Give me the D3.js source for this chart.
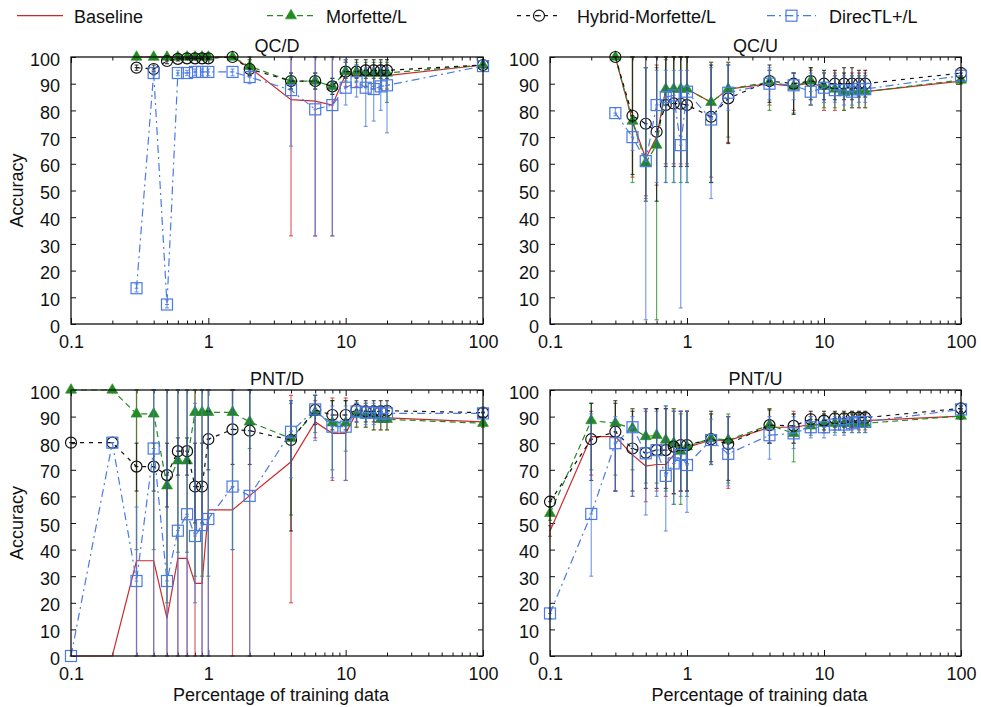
<!DOCTYPE html>
<html>
<head>
<meta charset="utf-8">
<script src="https://cdn.jsdelivr.net/npm/d3@7"></script>
<style>
  body { margin: 0; background: #fff; }
  svg { display: block; }
  text { font-family: "Liberation Sans", Arial, Helvetica, sans-serif; fill: #111; }
</style>
</head>
<body>
<svg id="chart" width="981" height="707"></svg>
<script>
// Percentage of training data used at each measured point
const trainingPct = [0.1, 0.2, 0.3, 0.4, 0.5, 0.6, 0.7, 0.8, 0.9, 1, 1.5, 2, 4, 6, 8, 10, 12, 14, 16, 18, 20, 100];
const seriesNames = ["Baseline", "Morfette/L", "Hybrid-Morfette/L", "DirecTL+/L"];
const panelTitles = ["QC/D", "QC/U", "PNT/D", "PNT/U"];
const xTickValues = [0.1, 1, 10, 100];
const yTickValues = [0, 10, 20, 30, 40, 50, 60, 70, 80, 90, 100];

// QC/D accuracy and [min, max] ranges
const qcdBaseline = [null, null, 100, 100, 100, 100, 100, 100, 100, 100, 100, 96, 84, 83.5, 82, 93.5, 93, 93, 93, 93, 93, 97];
const qcdBaselineErr = [null, null, null, null, null, null, null, null, null, null, null, [93, 99], [33, 100], [33, 100], [33, 100], [89, 98], [89, 97], [89, 97], [88, 97], [88, 97], [88, 97], [96, 98]];
const qcdMorfette = [null, null, 100, 100, 100, 100, 100, 100, 100, 100, 100, 96.5, 91, 91, 89, 94.5, 94.5, 94, 94, 94, 94, 97];
const qcdMorfetteErr = [null, null, null, null, null, null, null, null, null, null, null, [94, 99], [88, 94], [88, 94], [86, 92], [91, 98], [91, 98], [89, 98], [89, 98], [88, 98], [83, 98], [96, 98]];
const qcdHybrid = [null, null, 96, 95.5, 98.5, 99.3, 99.5, 99.5, 99.5, 99.5, 100, 95.5, 91, 91, 89, 94.5, 94.5, 95, 95, 95, 95, 97];
const qcdHybridErr = [null, null, [95, 97], [94.5, 97], [97.5, 100], [98.5, 100], [99, 100], [99, 100], [99, 100], [99, 100], null, [93, 100], [88, 94], [88, 94], [86, 92], [92, 99], [92, 99], [92, 99], [92, 99], [92, 99], [92, 99], [96, 98]];
const qcdDirectl = [null, null, 13.4, 94, 7.3, 94, 94, 94.4, 94.4, 94.4, 94.4, 92.5, 87.6, 80.4, 82, 88.5, 90.6, 88.5, 88, 89, 89.4, 96.6];
const qcdDirectlErr = [null, null, [12, 15], [93, 95], [6, 9], [93, 95], [93, 95], [93, 95.5], [93, 95.5], [93, 95.5], [93, 95.5], [90, 95], [66.6, 100], [33, 100], [33, 100], [82, 99], [85, 97], [74, 96], [76, 96], [80, 96], [71.6, 96], [96, 98]];

// QC/U
const qcuBaseline = [null, null, 100, 76, 62, 70, 88, 88, 88, 88, 83, 88, 90, 89, 90.5, 88.5, 88, 87, 87, 87, 87, 91];
const qcuBaselineErr = [null, null, null, [55, 100], [48, 96], [52, 97], [60, 100], [60, 100], [60, 100], [60, 100], [55, 98], [68, 98], [82, 95], [80, 94], [82, 95], [80, 94], [80, 94], [80, 94], [81, 94], [81, 94], [81, 94], [90, 93]];
const qcuMorfette = [null, null, 100, 76, 60.4, 67, 88, 88, 88, 88, 83, 88, 90.6, 89, 91, 89, 88, 87, 87, 87, 87, 91.4];
const qcuMorfetteErr = [null, null, null, [53, 100], [47, 96], [1.6, 96], [53, 99], [53, 100], [53, 100], [53, 100], [53, 98], [70, 98], [80, 95], [79, 94], [82, 96], [81, 94], [81, 93], [80, 94], [81, 93], [81, 93], [81, 93], [90, 93]];
const qcuHybrid = [null, null, 100, 78, 75, 72, 82, 82.6, 82.5, 82, 77.6, 84.5, 91, 90, 91, 90, 90, 90, 90, 90, 90, 94];
const qcuHybridErr = [null, null, null, [56, 100], [46, 100], [46, 100], [59, 100], [59, 100], [59, 100], [59, 100], [53, 97], [67.6, 97], [83, 97], [78.5, 94], [84, 96], [84, 95], [84, 95], [84, 96], [84, 96], [85, 95], [85, 95], [92, 96]];
const qcuDirectl = [null, null, 79, 70, 61, 82, 85, 85.6, 67, 87, 76.6, 86.6, 90, 89.4, 87, 88.5, 87.6, 87.6, 87, 88, 88, 93];
const qcuDirectlErr = [null, null, [78, 81], [65, 75], [1.6, 96], [53, 95], [53, 95], [53, 95], [6, 95], [53, 95], [47, 96], [80, 97], [84, 96], [84, 94], [82, 94], [83, 94], [83, 93], [82, 93], [82, 93], [83, 93], [83, 93], [91, 95]];

// PNT/D
const pndBaseline = [0, 0, 35.8, 35.8, 14.2, 36.7, 36.7, 27.3, 27.3, 54.9, 54.9, 60.3, 73, 88, 83.7, 83.7, 91.5, 90, 90, 89.5, 89.5, 88];
const pndBaselineErr = [null, null, [0, 100], [0, 100], [0, 100], [0, 100], [0, 100], [0, 100], [0, 100], [0, 100], [0, 100], [0, 100], [20, 98], [82, 96], [66, 97], [66, 97], [86, 95], [86, 94], [85, 94], [85, 94], [85, 94], [87, 89]];
const pndMorfette = [100, 100, 91, 91, 64, 73.4, 73.4, 91.6, 91.6, 91.6, 91.6, 88, 81.8, 91.6, 87.7, 87.7, 91, 90.6, 90.6, 89, 89, 87.5];
const pndMorfetteErr = [null, null, [40, 100], [40, 100], [20, 100], [39, 100], [39, 100], [30, 100], [30, 100], [30, 100], [40, 100], [78, 100], [53, 95], [84, 98], [70, 96], [77, 96], [86, 95], [86, 95], [85, 94], [85, 94], [85, 94], [86, 89]];
const pndHybrid = [80.2, 80.2, 71.2, 71.2, 68, 77, 77, 63.7, 63.7, 81.5, 85.2, 84.7, 81.2, 92.5, 90.6, 90.6, 92.5, 92, 92, 92, 92.2, 91.5];
const pndHybridErr = [null, null, [62, 80], [62, 80], [56, 80], [68, 82], [68, 82], [50, 80], [50, 80], [70, 92], [72, 100], [72, 100], [47, 96], [87, 98], [85, 96], [85, 96], [88, 96], [88, 96], [88, 96], [88, 96], [88, 96], [90, 93]];
const pndDirectl = [0, 80.2, 28.2, 78, 28.2, 47.1, 53.3, 45.1, 49.2, 51.5, 63.7, 60.2, 84.3, 92.7, 86.2, 86.2, 91.9, 91.5, 91.5, 91.2, 91.2, 91.2];
const pndDirectlErr = [null, null, [0, 56], [0, 100], [0, 100], [0, 100], [0, 100], [20, 95], [0, 100], [0, 100], [40, 100], [0, 100], [67, 96], [81, 98], [67, 94], [66, 94], [88, 95], [87, 95], [87, 95], [88, 94], [88, 94], [90, 92]];

// PNT/U
const pnuBaseline = [47, 82.5, 82.5, 75.6, 71.4, 72, 72, 75.6, 77, 78.4, 81.2, 81, 86, 86, 87, 87, 88, 88, 88.5, 88.5, 88.5, 90.2];
const pnuBaselineErr = [[45, 49], [68, 92], [62, 95], [60, 93], [58, 92], [62, 93], [60, 93], [61, 93], [62, 92], [62, 92], [72, 91], [63, 90], [80, 93], [80, 92], [84, 91], [84, 91], [85, 91], [84, 91], [85, 91], [85, 91], [85, 91], [89, 92]];
const pnuMorfette = [53.6, 88.5, 87.5, 85.6, 82.5, 83, 81.2, 80, 77, 78.7, 81.8, 81.2, 86.8, 83.7, 86.5, 87.5, 87.5, 87.5, 87.5, 87.5, 87.5, 90.2];
const pnuMorfetteErr = [[51, 56], [70, 95], [68, 95], [70, 93], [65, 93], [65, 93], [62, 94], [57, 93], [57, 91], [60, 92], [72, 91], [65, 91], [80, 93], [73, 91], [83, 90], [84, 91], [84, 91], [84, 91], [84, 91], [84, 91], [84, 91], [89, 92]];
const pnuHybrid = [58, 81.5, 84.3, 78, 76.4, 77.4, 77.4, 78.7, 79.3, 79.3, 81.5, 79.7, 86.8, 86.5, 89, 88.5, 89.3, 89.3, 89.6, 89.6, 89.6, 93.1];
const pnuHybridErr = [[56, 60], [66, 95], [62, 96], [62, 92], [63, 93], [63, 93], [63, 93], [61, 92], [62, 92], [62, 92], [73, 92], [66, 90], [80, 92.5], [80, 91], [86, 92], [85, 92], [86, 92], [86, 92], [86, 92], [86, 92], [86, 92], [92, 94]];
const pnuDirectl = [16, 53.4, 80, 86, 76.2, 77.4, 67.7, 72.4, 75.6, 71.8, 81.2, 76, 83, 83.7, 86, 86, 87, 87, 87.5, 88, 88, 92.7];
const pnuDirectlErr = [[14, 18], [30, 91], [62, 90], [60, 90], [53, 93], [60, 92], [47, 94], [57, 92], [60, 92], [54, 92], [72, 89], [64, 90], [74, 90], [78, 90], [82, 90], [82, 90], [83, 90], [83, 90], [84, 90], [84, 90], [84, 90], [91, 94]];

// Drawing styles for the four systems
const styles = [
  { color: "#cc2a2a", dash: null,        marker: "none" },
  { color: "#228b22", dash: "6,4",       marker: "triangle" },
  { color: "#111111", dash: "4,5",       marker: "circle" },
  { color: "#4a7ae6", dash: "8,4,2,4",   marker: "square" }
];

const panels = [
  { title: panelTitles[0], box: [71, 483, 57, 324],  xLabel: false, series: [[qcdBaseline, qcdBaselineErr], [qcdMorfette, qcdMorfetteErr], [qcdHybrid, qcdHybridErr], [qcdDirectl, qcdDirectlErr]] },
  { title: panelTitles[1], box: [550, 961, 57, 324], xLabel: false, series: [[qcuBaseline, qcuBaselineErr], [qcuMorfette, qcuMorfetteErr], [qcuHybrid, qcuHybridErr], [qcuDirectl, qcuDirectlErr]] },
  { title: panelTitles[2], box: [71, 483, 390, 656], xLabel: true,  series: [[pndBaseline, pndBaselineErr], [pndMorfette, pndMorfetteErr], [pndHybrid, pndHybridErr], [pndDirectl, pndDirectlErr]] },
  { title: panelTitles[3], box: [550, 961, 390, 656], xLabel: true, series: [[pnuBaseline, pnuBaselineErr], [pnuMorfette, pnuMorfetteErr], [pnuHybrid, pnuHybridErr], [pnuDirectl, pnuDirectlErr]] }
];

const svg = d3.select("#chart");
const FS = 18;

function drawMarker(g, type, x, y, color) {
  if (type === "triangle") {
    g.append("path")
      .attr("d", d3.symbol().type(d3.symbolTriangle).size(52)())
      .attr("transform", `translate(${x},${y})`)
      .attr("fill", color).attr("stroke", color).attr("stroke-width", 0.6);
  } else if (type === "circle") {
    g.append("circle").attr("cx", x).attr("cy", y).attr("r", 5.5)
      .attr("fill", "none").attr("stroke", color).attr("stroke-width", 1.2);
    g.append("line").attr("x1", x - 1.8).attr("x2", x + 1.8).attr("y1", y).attr("y2", y)
      .attr("stroke", color).attr("stroke-width", 1);
  } else if (type === "square") {
    g.append("rect").attr("x", x - 5.5).attr("y", y - 5.5).attr("width", 11).attr("height", 11)
      .attr("fill", "none").attr("stroke", color).attr("stroke-width", 1.2);
    g.append("line").attr("x1", x - 1.8).attr("x2", x + 1.8).attr("y1", y).attr("y2", y)
      .attr("stroke", color).attr("stroke-width", 1);
  }
}

panels.forEach(p => {
  const [x0, x1, y0, y1] = p.box;
  const x = d3.scaleLog().domain([0.1, 100]).range([x0, x1]);
  const y = d3.scaleLinear().domain([0, 100]).range([y1, y0]);
  const g = svg.append("g");

  // minor x ticks (2..9 within each decade)
  const minor = [];
  for (let d = 0.1; d < 100; d *= 10) for (let k = 2; k <= 9; k++) minor.push(+(d * k).toFixed(3));

  const axes = g.append("g");
  axes.append("g").attr("transform", `translate(0,${y1})`)
    .call(d3.axisBottom(x).tickValues(minor).tickSize(-3.5).tickFormat(""));
  axes.append("g").attr("transform", `translate(0,${y0})`)
    .call(d3.axisTop(x).tickValues(minor).tickSize(-3.5).tickFormat(""));
  axes.append("g").attr("transform", `translate(0,${y0})`)
    .call(d3.axisTop(x).tickValues(xTickValues).tickSize(-6).tickFormat(""));
  axes.append("g").attr("transform", `translate(0,${y1})`)
    .call(d3.axisBottom(x).tickValues(xTickValues).tickSize(-6).tickPadding(11.5).tickFormat(d => String(d)));
  const leftAxis = axes.append("g").attr("transform", `translate(${x0},0)`)
    .call(d3.axisLeft(y).tickValues(yTickValues).tickSize(-5).tickPadding(11).tickFormat(d3.format("d")));
  axes.append("g").attr("transform", `translate(${x1},0)`)
    .call(d3.axisRight(y).tickValues(yTickValues).tickSize(-5).tickFormat(""));
  axes.selectAll(".domain").remove();
  axes.selectAll(".tick line").attr("stroke", "#111").attr("stroke-width", 1);
  axes.selectAll(".tick text").attr("font-size", FS).attr("font-family", null).attr("fill", "#111");
  leftAxis.selectAll(".tick text").attr("dy", "0.45em");

  // series: error bars, connecting line, markers
  p.series.forEach(([vals, errs], si) => {
    const st = styles[si];
    const pts = trainingPct.map((t, i) => ({ t, v: vals[i], e: errs[i] }));
    const sg = g.append("g");
    pts.filter(d => d.v != null && d.e).forEach(d => {
      const cx = x(d.t), ylo = y(d.e[0]), yhi = y(d.e[1]);
      const eg = sg.append("g").attr("stroke", st.color).attr("stroke-width", 1.2).attr("stroke-opacity", 0.72);
      eg.append("line").attr("x1", cx).attr("x2", cx).attr("y1", ylo).attr("y2", yhi);
      eg.append("line").attr("x1", cx - 2).attr("x2", cx + 2).attr("y1", ylo).attr("y2", ylo);
      eg.append("line").attr("x1", cx - 2).attr("x2", cx + 2).attr("y1", yhi).attr("y2", yhi);
    });
    const line = d3.line().defined(d => d.v != null).x(d => x(d.t)).y(d => y(d.v));
    sg.append("path").datum(pts).attr("d", line)
      .attr("fill", "none").attr("stroke", st.color).attr("stroke-width", 1.2)
      .attr("stroke-dasharray", st.dash);
    pts.filter(d => d.v != null).forEach(d => drawMarker(sg, st.marker, x(d.t), y(d.v), st.color));
  });

  // frame
  g.append("rect").attr("x", x0).attr("y", y0).attr("width", x1 - x0).attr("height", y1 - y0)
    .attr("fill", "none").attr("stroke", "#111").attr("stroke-width", 1.3);

  // titles
  g.append("text").attr("x", (x0 + x1) / 2).attr("y", y0 - 5.5).attr("text-anchor", "middle")
    .attr("font-size", FS).text(p.title);
  if (p.xLabel) {
    g.append("text").attr("x", (x0 + x1) / 2 + 4).attr("y", y1 + 44.5).attr("text-anchor", "middle")
      .attr("font-size", FS).text("Percentage of training data");
  }
  if (x0 < 100) {
    g.append("text").attr("transform", `translate(23,${(y0 + y1) / 2}) rotate(-90)`)
      .attr("text-anchor", "middle").attr("font-size", FS).text("Accuracy");
  }
});

// legend
const legendItems = [
  { x1: 17, x2: 63, tx: 74 },
  { x1: 267, x2: 315, tx: 326 },
  { x1: 517, x2: 561, tx: 577 },
  { x1: 767, x2: 816, tx: 829 }
];
const lg = svg.append("g");
seriesNames.forEach((name, i) => {
  const it = legendItems[i], st = styles[i], ly = 15.7;
  lg.append("line").attr("x1", it.x1).attr("x2", it.x2).attr("y1", ly).attr("y2", ly)
    .attr("stroke", st.color).attr("stroke-width", 1.2).attr("stroke-dasharray", st.dash);
  drawMarker(lg, st.marker, (it.x1 + it.x2) / 2, ly, st.color);
  lg.append("text").attr("x", it.tx).attr("y", 23.3).attr("font-size", FS).text(name);
});
</script>
</body>
</html>
